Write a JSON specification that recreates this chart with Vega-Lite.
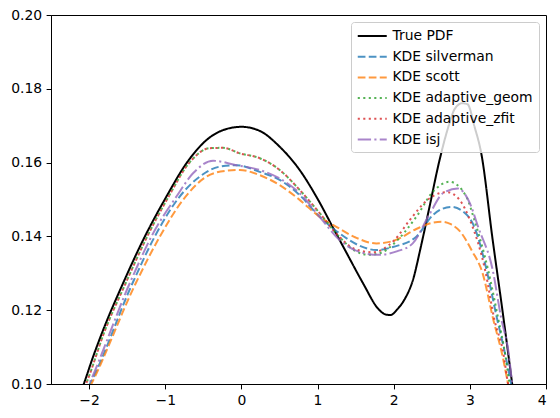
{
  "$schema": "https://vega.github.io/schema/vega-lite/v6.json",
  "width": 495,
  "height": 369,
  "autosize": {"type": "none"},
  "padding": {"left": 51, "top": 15, "right": 14, "bottom": 34},
  "config": {
    "font": "DejaVu Sans",
    "view": {"stroke": "black", "strokeWidth": 1},
    "axis": {
      "labelFont": "DejaVu Sans", "labelFontSize": 13.9, "labelColor": "black",
      "domainColor": "black", "tickColor": "black", "tickSize": 4.9, "labelPadding": 4.5,
      "grid": false, "title": null
    },
    "legend": {
      "orient": "top-right", "offset": 7, "padding": 5.5, "title": null,
      "fillColor": "rgba(255,255,255,0.8)", "strokeColor": "#cccccc", "cornerRadius": 3,
      "labelFont": "DejaVu Sans", "labelFontSize": 13.9, "labelColor": "black",
      "symbolType": "M-1,0H3", "symbolSize": 210, "symbolStrokeWidth": 2,
      "symbolFillColor": "transparent",
      "labelOffset": 19, "rowPadding": 4.7
    }
  },
  "data": {"values": [
    {"series": "True PDF", "x": -2.15, "y": 0.0957},
    {"series": "True PDF", "x": -2.07, "y": 0.1},
    {"series": "True PDF", "x": -1.947, "y": 0.1074},
    {"series": "True PDF", "x": -1.816, "y": 0.1146},
    {"series": "True PDF", "x": -1.554, "y": 0.1273},
    {"series": "True PDF", "x": -1.291, "y": 0.139},
    {"series": "True PDF", "x": -0.984, "y": 0.1508},
    {"series": "True PDF", "x": -0.722, "y": 0.1598},
    {"series": "True PDF", "x": -0.459, "y": 0.1661},
    {"series": "True PDF", "x": -0.197, "y": 0.1691},
    {"series": "True PDF", "x": 0.0, "y": 0.1697},
    {"series": "True PDF", "x": 0.24, "y": 0.1686},
    {"series": "True PDF", "x": 0.503, "y": 0.1643},
    {"series": "True PDF", "x": 0.765, "y": 0.158},
    {"series": "True PDF", "x": 1.0, "y": 0.1502},
    {"series": "True PDF", "x": 1.2, "y": 0.1425},
    {"series": "True PDF", "x": 1.4, "y": 0.1348},
    {"series": "True PDF", "x": 1.6, "y": 0.1272},
    {"series": "True PDF", "x": 1.8, "y": 0.1203},
    {"series": "True PDF", "x": 1.9, "y": 0.1188},
    {"series": "True PDF", "x": 1.96, "y": 0.1187},
    {"series": "True PDF", "x": 2.05, "y": 0.1203},
    {"series": "True PDF", "x": 2.15, "y": 0.1232},
    {"series": "True PDF", "x": 2.25, "y": 0.128},
    {"series": "True PDF", "x": 2.36, "y": 0.1375},
    {"series": "True PDF", "x": 2.46, "y": 0.147},
    {"series": "True PDF", "x": 2.6, "y": 0.1605},
    {"series": "True PDF", "x": 2.733, "y": 0.1707},
    {"series": "True PDF", "x": 2.8, "y": 0.1745},
    {"series": "True PDF", "x": 2.9, "y": 0.1761},
    {"series": "True PDF", "x": 2.97, "y": 0.1758},
    {"series": "True PDF", "x": 3.062, "y": 0.1697},
    {"series": "True PDF", "x": 3.15, "y": 0.1625},
    {"series": "True PDF", "x": 3.3, "y": 0.139},
    {"series": "True PDF", "x": 3.433, "y": 0.1192},
    {"series": "True PDF", "x": 3.556, "y": 0.1},
    {"series": "True PDF", "x": 3.65, "y": 0.085},

    {"series": "KDE silverman", "x": -2.08, "y": 0.0968},
    {"series": "KDE silverman", "x": -1.99, "y": 0.1},
    {"series": "KDE silverman", "x": -1.43, "y": 0.1273},
    {"series": "KDE silverman", "x": -1.116, "y": 0.1408},
    {"series": "KDE silverman", "x": -0.81, "y": 0.1508},
    {"series": "KDE silverman", "x": -0.547, "y": 0.1562},
    {"series": "KDE silverman", "x": -0.285, "y": 0.1589},
    {"series": "KDE silverman", "x": -0.066, "y": 0.1593},
    {"series": "KDE silverman", "x": 0.24, "y": 0.1575},
    {"series": "KDE silverman", "x": 0.503, "y": 0.1553},
    {"series": "KDE silverman", "x": 0.765, "y": 0.1512},
    {"series": "KDE silverman", "x": 1.028, "y": 0.1453},
    {"series": "KDE silverman", "x": 1.29, "y": 0.1408},
    {"series": "KDE silverman", "x": 1.55, "y": 0.1375},
    {"series": "KDE silverman", "x": 1.772, "y": 0.1363},
    {"series": "KDE silverman", "x": 2.0, "y": 0.1372},
    {"series": "KDE silverman", "x": 2.297, "y": 0.1399},
    {"series": "KDE silverman", "x": 2.515, "y": 0.1458},
    {"series": "KDE silverman", "x": 2.756, "y": 0.148},
    {"series": "KDE silverman", "x": 2.953, "y": 0.146},
    {"series": "KDE silverman", "x": 3.05, "y": 0.143},
    {"series": "KDE silverman", "x": 3.22, "y": 0.1309},
    {"series": "KDE silverman", "x": 3.354, "y": 0.118},
    {"series": "KDE silverman", "x": 3.47, "y": 0.1075},
    {"series": "KDE silverman", "x": 3.54, "y": 0.1002},
    {"series": "KDE silverman", "x": 3.62, "y": 0.091},

    {"series": "KDE scott", "x": -2.05, "y": 0.0968},
    {"series": "KDE scott", "x": -1.97, "y": 0.1},
    {"series": "KDE scott", "x": -1.387, "y": 0.1273},
    {"series": "KDE scott", "x": -1.072, "y": 0.1399},
    {"series": "KDE scott", "x": -0.766, "y": 0.1499},
    {"series": "KDE scott", "x": -0.459, "y": 0.1562},
    {"series": "KDE scott", "x": -0.197, "y": 0.1578},
    {"series": "KDE scott", "x": -0.02, "y": 0.158},
    {"series": "KDE scott", "x": 0.24, "y": 0.1566},
    {"series": "KDE scott", "x": 0.503, "y": 0.1539},
    {"series": "KDE scott", "x": 0.765, "y": 0.1499},
    {"series": "KDE scott", "x": 1.028, "y": 0.1453},
    {"series": "KDE scott", "x": 1.247, "y": 0.1426},
    {"series": "KDE scott", "x": 1.5, "y": 0.1397},
    {"series": "KDE scott", "x": 1.772, "y": 0.1381},
    {"series": "KDE scott", "x": 2.0, "y": 0.1388},
    {"series": "KDE scott", "x": 2.297, "y": 0.142},
    {"series": "KDE scott", "x": 2.47, "y": 0.1435},
    {"series": "KDE scott", "x": 2.625, "y": 0.144},
    {"series": "KDE scott", "x": 2.75, "y": 0.1433},
    {"series": "KDE scott", "x": 2.865, "y": 0.1415},
    {"series": "KDE scott", "x": 3.03, "y": 0.136},
    {"series": "KDE scott", "x": 3.16, "y": 0.1305},
    {"series": "KDE scott", "x": 3.31, "y": 0.1173},
    {"series": "KDE scott", "x": 3.43, "y": 0.1075},
    {"series": "KDE scott", "x": 3.5, "y": 0.1002},
    {"series": "KDE scott", "x": 3.58, "y": 0.092},

    {"series": "KDE adaptive_geom", "x": -2.14, "y": 0.0953},
    {"series": "KDE adaptive_geom", "x": -2.04, "y": 0.1},
    {"series": "KDE adaptive_geom", "x": -1.79, "y": 0.1146},
    {"series": "KDE adaptive_geom", "x": -1.52, "y": 0.1273},
    {"series": "KDE adaptive_geom", "x": -1.26, "y": 0.139},
    {"series": "KDE adaptive_geom", "x": -0.955, "y": 0.1508},
    {"series": "KDE adaptive_geom", "x": -0.69, "y": 0.1598},
    {"series": "KDE adaptive_geom", "x": -0.416, "y": 0.1639},
    {"series": "KDE adaptive_geom", "x": -0.241, "y": 0.164},
    {"series": "KDE adaptive_geom", "x": -0.02, "y": 0.1625},
    {"series": "KDE adaptive_geom", "x": 0.24, "y": 0.1612},
    {"series": "KDE adaptive_geom", "x": 0.503, "y": 0.158},
    {"series": "KDE adaptive_geom", "x": 0.765, "y": 0.1526},
    {"series": "KDE adaptive_geom", "x": 1.028, "y": 0.1463},
    {"series": "KDE adaptive_geom", "x": 1.29, "y": 0.1398},
    {"series": "KDE adaptive_geom", "x": 1.5, "y": 0.136},
    {"series": "KDE adaptive_geom", "x": 1.68, "y": 0.135},
    {"series": "KDE adaptive_geom", "x": 1.85, "y": 0.1357},
    {"series": "KDE adaptive_geom", "x": 1.99, "y": 0.1378},
    {"series": "KDE adaptive_geom", "x": 2.297, "y": 0.1453},
    {"series": "KDE adaptive_geom", "x": 2.515, "y": 0.1521},
    {"series": "KDE adaptive_geom", "x": 2.733, "y": 0.1548},
    {"series": "KDE adaptive_geom", "x": 2.953, "y": 0.1508},
    {"series": "KDE adaptive_geom", "x": 3.06, "y": 0.1444},
    {"series": "KDE adaptive_geom", "x": 3.24, "y": 0.1309},
    {"series": "KDE adaptive_geom", "x": 3.37, "y": 0.118},
    {"series": "KDE adaptive_geom", "x": 3.46, "y": 0.1085},
    {"series": "KDE adaptive_geom", "x": 3.52, "y": 0.1002},
    {"series": "KDE adaptive_geom", "x": 3.6, "y": 0.091},

    {"series": "KDE adaptive_zfit", "x": -2.12, "y": 0.0962},
    {"series": "KDE adaptive_zfit", "x": -2.04, "y": 0.1},
    {"series": "KDE adaptive_zfit", "x": -1.79, "y": 0.1146},
    {"series": "KDE adaptive_zfit", "x": -1.52, "y": 0.1273},
    {"series": "KDE adaptive_zfit", "x": -1.26, "y": 0.139},
    {"series": "KDE adaptive_zfit", "x": -0.955, "y": 0.1508},
    {"series": "KDE adaptive_zfit", "x": -0.69, "y": 0.1598},
    {"series": "KDE adaptive_zfit", "x": -0.416, "y": 0.1639},
    {"series": "KDE adaptive_zfit", "x": -0.241, "y": 0.164},
    {"series": "KDE adaptive_zfit", "x": -0.02, "y": 0.1625},
    {"series": "KDE adaptive_zfit", "x": 0.24, "y": 0.1612},
    {"series": "KDE adaptive_zfit", "x": 0.503, "y": 0.158},
    {"series": "KDE adaptive_zfit", "x": 0.765, "y": 0.1526},
    {"series": "KDE adaptive_zfit", "x": 1.028, "y": 0.1463},
    {"series": "KDE adaptive_zfit", "x": 1.29, "y": 0.1398},
    {"series": "KDE adaptive_zfit", "x": 1.5, "y": 0.1365},
    {"series": "KDE adaptive_zfit", "x": 1.72, "y": 0.1357},
    {"series": "KDE adaptive_zfit", "x": 2.01, "y": 0.139},
    {"series": "KDE adaptive_zfit", "x": 2.21, "y": 0.1444},
    {"series": "KDE adaptive_zfit", "x": 2.45, "y": 0.15},
    {"series": "KDE adaptive_zfit", "x": 2.602, "y": 0.1517},
    {"series": "KDE adaptive_zfit", "x": 2.7, "y": 0.152},
    {"series": "KDE adaptive_zfit", "x": 2.865, "y": 0.1499},
    {"series": "KDE adaptive_zfit", "x": 3.0, "y": 0.1445},
    {"series": "KDE adaptive_zfit", "x": 3.2, "y": 0.1309},
    {"series": "KDE adaptive_zfit", "x": 3.324, "y": 0.1173},
    {"series": "KDE adaptive_zfit", "x": 3.44, "y": 0.1083},
    {"series": "KDE adaptive_zfit", "x": 3.5, "y": 0.1002},
    {"series": "KDE adaptive_zfit", "x": 3.58, "y": 0.092},

    {"series": "KDE isj", "x": -2.08, "y": 0.0965},
    {"series": "KDE isj", "x": -2.0, "y": 0.1},
    {"series": "KDE isj", "x": -1.466, "y": 0.1273},
    {"series": "KDE isj", "x": -1.16, "y": 0.1408},
    {"series": "KDE isj", "x": -0.853, "y": 0.1508},
    {"series": "KDE isj", "x": -0.635, "y": 0.1571},
    {"series": "KDE isj", "x": -0.372, "y": 0.1605},
    {"series": "KDE isj", "x": -0.066, "y": 0.1593},
    {"series": "KDE isj", "x": 0.24, "y": 0.158},
    {"series": "KDE isj", "x": 0.503, "y": 0.1557},
    {"series": "KDE isj", "x": 0.765, "y": 0.1517},
    {"series": "KDE isj", "x": 1.028, "y": 0.1453},
    {"series": "KDE isj", "x": 1.29, "y": 0.139},
    {"series": "KDE isj", "x": 1.55, "y": 0.1358},
    {"series": "KDE isj", "x": 1.8, "y": 0.135},
    {"series": "KDE isj", "x": 2.05, "y": 0.136},
    {"series": "KDE isj", "x": 2.25, "y": 0.1381},
    {"series": "KDE isj", "x": 2.47, "y": 0.146},
    {"series": "KDE isj", "x": 2.646, "y": 0.1517},
    {"series": "KDE isj", "x": 2.84, "y": 0.153},
    {"series": "KDE isj", "x": 3.0, "y": 0.149},
    {"series": "KDE isj", "x": 3.11, "y": 0.1425},
    {"series": "KDE isj", "x": 3.3, "y": 0.1309},
    {"series": "KDE isj", "x": 3.41, "y": 0.118},
    {"series": "KDE isj", "x": 3.51, "y": 0.1083},
    {"series": "KDE isj", "x": 3.556, "y": 0.1002},
    {"series": "KDE isj", "x": 3.63, "y": 0.092}
  ]},
  "mark": {"type": "line", "clip": true, "interpolate": "monotone", "strokeWidth": 2},
  "encoding": {
    "x": {"field": "x", "type": "quantitative",
      "scale": {"domain": [-2.5, 4], "nice": false, "zero": false},
      "axis": {"values": [-2, -1, 0, 1, 2, 3, 4]}},
    "y": {"field": "y", "type": "quantitative",
      "scale": {"domain": [0.1, 0.2], "nice": false, "zero": false},
      "axis": {"values": [0.1, 0.12, 0.14, 0.16, 0.18, 0.2], "format": ".2f"}},
    "color": {"field": "series", "type": "nominal",
      "scale": {"domain": ["True PDF", "KDE silverman", "KDE scott", "KDE adaptive_geom", "KDE adaptive_zfit", "KDE isj"],
        "range": ["black", "rgba(31,119,180,0.8)", "rgba(255,127,14,0.8)", "rgba(44,160,44,0.8)", "rgba(214,39,40,0.8)", "rgba(148,103,189,0.8)"]}},
    "strokeDash": {"field": "series", "type": "nominal",
      "scale": {"domain": ["True PDF", "KDE silverman", "KDE scott", "KDE adaptive_geom", "KDE adaptive_zfit", "KDE isj"],
        "range": [[1, 0], [7.7, 3.3], [7.7, 3.3], [2.1, 3.4], [2.1, 3.4], [13.3, 3.3, 2.1, 3.3]]}}
  }
}
